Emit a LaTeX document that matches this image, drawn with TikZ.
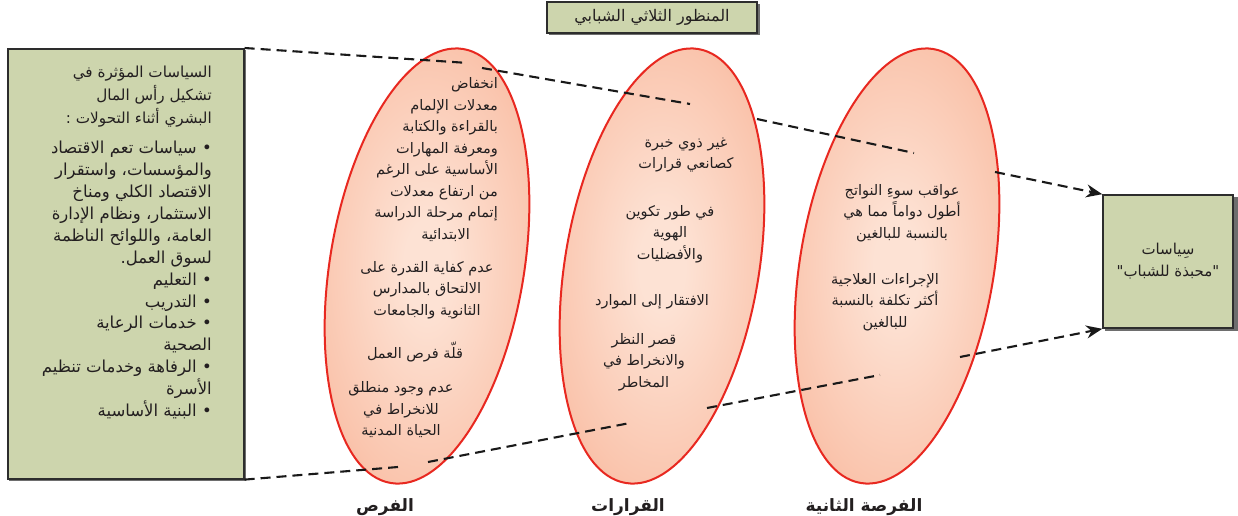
\documentclass[tikz,border=0pt]{standalone}
\usepackage{fontspec}
\usetikzlibrary{arrows.meta}
\TeXXeTstate=1
\newfontfamily\arabicfont[Script=Arabic]{DejaVu Sans}
\newcommand\rlt[1]{\beginR #1\endR}
\definecolor{boxgreen}{RGB}{205,213,173}
\definecolor{boxedge}{RGB}{45,45,45}
\definecolor{shadowgray}{RGB}{110,110,110}
\definecolor{ellred}{RGB}{232,40,32}
\definecolor{ellin}{RGB}{253,226,212}
\definecolor{ellmid}{RGB}{250,198,175}
\definecolor{ellout}{RGB}{245,168,138}
\definecolor{dashcol}{RGB}{25,25,25}
\definecolor{txt}{RGB}{35,31,32}
\pgfdeclareradialshading{ellshade}{\pgfpoint{0bp}{0bp}}{color(0bp)=(ellin); color(5bp)=(ellin); color(24bp)=(ellmid); color(40bp)=(ellout); color(50bp)=(ellout)}
\begin{document}
\begin{tikzpicture}[x=1pt,y=-1pt,
  gbox/.style={draw=boxedge, line width=1.6pt, fill=boxgreen, inner sep=0pt},
  ar/.style={font=\arabicfont\fontsize{14.5}{21.5}\selectfont, inner sep=0pt, text=txt},
  dline/.style={draw=dashcol, line width=2.1pt, dash pattern=on 10pt off 6pt},
  tip/.style={-{Stealth[length=16pt,width=13pt]}},
  ell/.style={shading=ellshade, draw=ellred, line width=2pt},
  lab/.style={font=\arabicfont\bfseries\fontsize{17}{19}\selectfont, inner sep=0pt, text=txt}]
\useasboundingbox (0,0) rectangle (1238,516);
\fill[white] (0,0) rectangle (1238,516);

% ellipses
\shadedraw[ell, shift={(427,266)}, rotate=-9.5] (0,0) ellipse [x radius=97, y radius=220];
\shadedraw[ell, shift={(662,266)}, rotate=-9.5] (0,0) ellipse [x radius=97, y radius=220];
\shadedraw[ell, shift={(897,266)}, rotate=-9.5] (0,0) ellipse [x radius=97, y radius=220];

% boxes
\fill[shadowgray] (9,50) rectangle (245.5,480.5);
\node[gbox, minimum width=236pt, minimum height=430pt, anchor=north west] (lbox) at (7,48) {};
\fill[shadowgray] (549,4) rectangle (759.5,35.5);
\node[gbox, ar, font=\arabicfont\fontsize{16}{18}\selectfont, minimum width=210pt, minimum height=31pt] (title) at (652,17.5) {\rlt{المنظور الثلاثي الشبابي}};
\fill[shadowgray] (1105,197) rectangle (1237.5,330.5);
\node[gbox, minimum width=130pt, minimum height=133pt] (rbox) at (1168,261.5) {};

% left box text
\node[ar, align=right, anchor=north east, font=\arabicfont\fontsize{15.2}{23}\selectfont] (ltitle) at (212,66)
  {\rlt{السياسات المؤثرة في}\\\rlt{تشكيل رأس المال}\\\rlt{البشري أثناء التحولات :}};
\node[ar, align=right, anchor=north east, font=\arabicfont\fontsize{16.5}{21.9}\selectfont] (llist) at (212,141)
  {\rlt{• سياسات تعم الاقتصاد}\\
   \rlt{والمؤسسات، واستقرار}\hspace*{12pt}\\
   \rlt{الاقتصاد الكلي ومناخ}\hspace*{12pt}\\
   \rlt{الاستثمار، ونظام الإدارة}\hspace*{12pt}\\
   \rlt{العامة، واللوائح الناظمة}\hspace*{12pt}\\
   \rlt{لسوق العمل.}\hspace*{12pt}\\
   \rlt{• التعليم}\\
   \rlt{• التدريب}\\
   \rlt{• خدمات الرعاية}\\
   \rlt{الصحية}\\
   \rlt{• الرفاهة وخدمات تنظيم}\\
   \rlt{الأسرة}\hspace*{12pt}\\
   \rlt{• البنية الأساسية}};

% ellipse 1 text
\node[ar, align=right, anchor=east] (e1a) at (498,159.5)
  {\rlt{انخفاض}\\\rlt{معدلات الإلمام}\\\rlt{بالقراءة والكتابة}\\\rlt{ومعرفة المهارات}\\\rlt{الأساسية على الرغم}\\\rlt{من ارتفاع معدلات}\\\rlt{إتمام مرحلة الدراسة}\\\rlt{الابتدائية}\hspace*{28pt}};
\node[ar, align=center] (e1b) at (427,290)
  {\rlt{عدم كفاية القدرة على}\\\rlt{الالتحاق بالمدارس}\\\rlt{الثانوية والجامعات}};
\node[ar] (e1c) at (415,352) {\rlt{قلّة فرص العمل}};
\node[ar, align=center] (e1d) at (401,410)
  {\rlt{عدم وجود منطلق}\\\rlt{للانخراط في}\\\rlt{الحياة المدنية}};

% ellipse 2 text
\node[ar, align=center] (e2a) at (686,155) {\rlt{غير ذوي خبرة}\\\rlt{كصانعي قرارات}};
\node[ar, align=center] (e2b) at (670,234) {\rlt{في طور تكوين}\\\rlt{الهوية}\\\rlt{والأفضليات}};
\node[ar] (e2c) at (652,302) {\rlt{الافتقار إلى الموارد}};
\node[ar, align=center] (e2d) at (644,362) {\rlt{قصر النظر}\\\rlt{والانخراط في}\\\rlt{المخاطر}};

% ellipse 3 text
\node[ar, align=center] (e3a) at (902,213) {\rlt{عواقب سوءِ النواتج}\\\rlt{أطول دواماً مما هي}\\\rlt{بالنسبة للبالغين}};
\node[ar, align=center] (e3b) at (885,302) {\rlt{الإجراءات العلاجية}\\\rlt{أكثر تكلفة بالنسبة}\\\rlt{للبالغين}};

% right box text
\node[ar, align=center, font=\arabicfont\fontsize{15}{22}\selectfont] (rtext) at (rbox.center) {\rlt{سِياسات}\\\rlt{"محبذة للشباب"}};

% bottom labels
\node[lab] (l1) at (385,507) {\rlt{الفرص}};
\node[lab] (l2) at (628,507) {\rlt{القرارات}};
\node[lab] (l3) at (864,507) {\rlt{الفرصة الثانية}};

% dashed connectors
\coordinate (u1) at (468,63);
\coordinate (u2) at (482,68);
\coordinate (u3) at (690,104);
\coordinate (u4) at (757,119);
\coordinate (u5) at (914,153);
\coordinate (u6) at (995,172);
\coordinate (d1) at (398,467);
\coordinate (d2) at (428,462);
\coordinate (d3) at (630,423);
\coordinate (d4) at (707,408);
\coordinate (d5) at (880,375);
\coordinate (d6) at (960,357);
\draw[dline] (lbox.north east) -- (u1);
\draw[dline] (u2) -- (u3);
\draw[dline] (u4) -- (u5);
\draw[dline, tip] (u6) -- (rbox.north west);
\draw[dline] (lbox.south east) -- (d1);
\draw[dline] (d2) -- (d3);
\draw[dline] (d4) -- (d5);
\draw[dline, tip] (d6) -- (rbox.south west);
\end{tikzpicture}
\end{document}
